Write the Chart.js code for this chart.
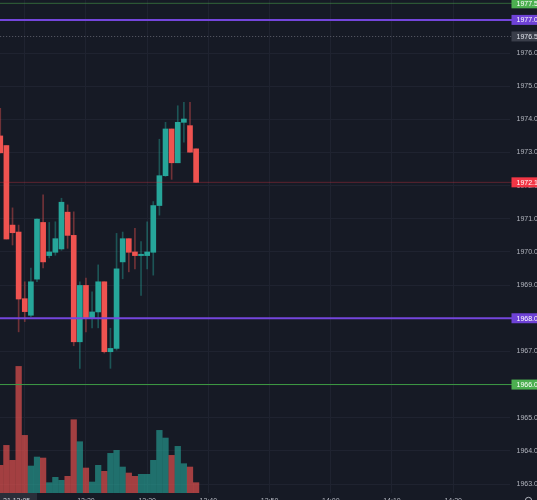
<!DOCTYPE html>
<html><head><meta charset="utf-8">
<script src="https://cdn.jsdelivr.net/npm/chart.js@4"></script>
<style>html,body{margin:0;padding:0;background:#161a25;overflow:hidden}canvas{display:block}</style>
</head><body>
<canvas id="c" width="537" height="500"></canvas>
<script>
// ---- data ----
const candleTimes = ['13:06','13:07','13:08','13:09','13:10','13:11','13:12','13:13','13:14','13:15','13:16',
  '13:17','13:18','13:19','13:20','13:21','13:22','13:23','13:24','13:25','13:26','13:27','13:28','13:29',
  '13:30','13:31','13:32','13:33','13:34','13:35','13:36','13:37','13:38'];
const opens  = [1973.50,1973.21,1970.81,1970.60,1968.59,1968.09,1969.18,1970.89,1969.89,1969.99,1970.09,
  1971.20,1970.50,1967.29,1968.99,1968.00,1968.19,1969.10,1966.99,1967.09,1969.70,1970.40,1970.00,1969.89,
  1969.89,1969.99,1971.40,1972.30,1973.71,1972.69,1973.91,1973.81,1973.11];
const highs  = [1974.33,1973.21,1971.33,1970.81,1969.10,1969.51,1971.00,1971.72,1970.89,1970.91,1971.62,
  1971.42,1971.21,1969.10,1969.21,1968.80,1969.61,1969.10,1967.70,1970.56,1970.60,1970.40,1970.71,1970.31,
  1970.91,1971.52,1973.40,1973.91,1973.71,1974.41,1974.51,1974.51,1973.11];
const lows   = [1972.99,1970.39,1970.21,1967.59,1967.90,1968.05,1969.10,1969.52,1969.82,1969.90,1970.05,
  1970.11,1967.17,1966.49,1967.59,1967.71,1967.71,1966.95,1966.49,1967.04,1969.19,1969.40,1969.49,1968.69,
  1969.49,1969.30,1971.11,1972.28,1972.19,1972.69,1973.31,1973.01,1972.10];
const closes = [1972.99,1970.39,1970.58,1968.58,1968.20,1969.10,1970.99,1969.70,1970.00,1970.40,1971.50,
  1970.50,1967.29,1968.99,1968.00,1968.19,1969.10,1966.99,1967.09,1969.49,1970.40,1969.99,1969.89,1969.93,
  1970.00,1971.40,1972.30,1973.71,1972.69,1973.91,1974.01,1973.01,1972.10];
const volumes = [83,143,98,380,173,81,108,105,31,47,38,50,220,154,75,33,83,65,119,128,78,60,50,56,56,98,
  188,165,113,140,88,78,31];
const xTickMinutes = [10,20,30,40,50,60,70,80];
const xTickLabels = ['13:10','13:20','13:30','13:40','13:50','14:00','14:10','14:20'];
const yTickValues = [1963,1964,1965,1966,1967,1968,1969,1970,1971,1972,1973,1974,1975,1976,1977];
const levelPrices = [1977.5,1977.0,1976.5,1972.1,1968.0,1966.0];
const levelTexts  = ['1977.5','1977.0','1976.5','1972.1','1968.0','1966.0'];
const cornerText = '21 13:05';

// ---- styles ----
const BG = '#161a25', GRID = '#1f2330', TXT = '#b2b5be';
const UP = '#26a69a', DN = '#ef5350';
const UPW = 'rgba(38,166,154,0.42)', DNW = 'rgba(239,83,80,0.42)';
const UPV = 'rgba(38,166,154,0.62)', DNV = 'rgba(239,83,80,0.65)';
const levelStyles = [
  {line:'rgba(76,175,80,0.5)', w:1, dash:[], box:'#4caf50', txt:'#ffffff'},
  {line:'#7446dc', w:2, dash:[], box:'#6e42d6', txt:'#ffffff'},
  {line:'#50535e', w:1.2, dash:[1.2,1.8], box:'#3a3e4a', txt:'#e0e3eb'},
  {line:'rgba(242,54,69,0.32)', w:1, dash:[], box:'#f23645', txt:'#ffffff'},
  {line:'#7446dc', w:2, dash:[], box:'#6e42d6', txt:'#ffffff'},
  {line:'#3d9a44', w:1, dash:[], box:'#4caf50', txt:'#ffffff'}
];
const FONT = 'Liberation Sans';

const toMin = t => { const [h, m] = t.split(':').map(Number); return h * 60 + m - 780; };
const xs = candleTimes.map(toMin);
const isUp = closes.map((c, i) => c >= opens[i]);

const overlay = {
  id: 'overlay',
  beforeDraw(chart) {
    const c = chart.ctx; c.save(); c.fillStyle = BG; c.fillRect(0, 0, chart.width, chart.height); c.restore();
  },
  afterDatasetsDraw(chart) {
    const c = chart.ctx, y = chart.scales.y, a = chart.chartArea;
    c.save();
    levelPrices.forEach((p, i) => {
      const st = levelStyles[i];
      const py = y.getPixelForValue(p);
      c.strokeStyle = st.line; c.lineWidth = st.w; c.setLineDash(st.dash);
      c.beginPath(); c.moveTo(a.left, py); c.lineTo(a.right + 2, py); c.stroke();
    });
    c.restore();
  },
  afterDraw(chart) {
    const c = chart.ctx, y = chart.scales.y, a = chart.chartArea;
    c.save();
    c.font = '7px "' + FONT + '"';
    c.textBaseline = 'middle'; c.textAlign = 'left';
    levelPrices.forEach((p, i) => {
      const st = levelStyles[i];
      const py = y.getPixelForValue(p);
      c.fillStyle = st.box;
      c.fillRect(a.right + 1.5, py - 5, chart.width - a.right - 1.5, 10);
      c.fillStyle = st.txt;
      c.fillText(levelTexts[i], a.right + 6.5, py + 0.5);
    });
    c.fillStyle = '#2a2e39';
    c.fillRect(0, a.bottom, 37, chart.height - a.bottom);
    c.fillStyle = '#d1d4dc'; c.textBaseline = 'top';
    c.fillText(cornerText, 3, a.bottom + 4.5);
    c.strokeStyle = TXT; c.lineWidth = 1;
    c.beginPath(); c.arc(528.5, 500.5, 3.2, 0, Math.PI * 2); c.stroke();
    c.restore();
  }
};

new Chart(document.getElementById('c'), {
  type: 'bar',
  data: {
    datasets: [
      { label: 'body', data: xs.map((x, i) => ({ x, y: [opens[i], closes[i]] })),
        backgroundColor: isUp.map(u => u ? UP : DN), barThickness: 5, minBarLength: 1,
        grouped: false, order: 1, yAxisID: 'y', borderWidth: 0 },
      { label: 'wick', data: xs.map((x, i) => ({ x, y: [lows[i], highs[i]] })),
        backgroundColor: isUp.map(u => u ? UPW : DNW), barThickness: 1,
        grouped: false, order: 2, yAxisID: 'y', borderWidth: 0 },
      { label: 'volume', data: xs.map((x, i) => ({ x, y: volumes[i] })),
        backgroundColor: isUp.map(u => u ? UPV : DNV), barThickness: 5.6,
        grouped: false, order: 3, yAxisID: 'v', borderWidth: 0 }
    ]
  },
  options: {
    responsive: false, animation: false, devicePixelRatio: 1,
    layout: { padding: 0 },
    plugins: { legend: { display: false }, tooltip: { enabled: false } },
    scales: {
      x: {
        type: 'linear', position: 'bottom', min: 7 - 6.4 / 6.12, max: 7 - 6.4 / 6.12 + 510 / 6.12,
        offset: false,
        afterBuildTicks: s => { s.ticks = xTickMinutes.map(v => ({ value: v })); },
        afterFit: s => { s.height = 7; s.paddingLeft = 0; s.paddingRight = 0; s.paddingTop = 0; s.paddingBottom = 0; },
        grid: { color: GRID, drawTicks: false, offset: false },
        border: { display: false },
        ticks: { color: TXT, font: { size: 7, family: FONT }, padding: 4, maxRotation: 0, autoSkip: false,
          callback: v => xTickLabels[xTickMinutes.indexOf(v)] }
      },
      y: {
        type: 'linear', position: 'right', min: 1963 - 9 / 33.15, max: 1963 + 484 / 33.15,
        afterBuildTicks: s => { s.ticks = yTickValues.map(v => ({ value: v })); },
        afterFit: s => { s.width = 27; s.paddingTop = 0; s.paddingBottom = 0; s.paddingLeft = 0; s.paddingRight = 0; },
        grid: { color: GRID, drawTicks: false },
        border: { display: false },
        ticks: { color: TXT, font: { size: 7, family: FONT }, padding: 6.5, autoSkip: false,
          callback: v => Number(v).toFixed(1) }
      },
      v: { type: 'linear', display: false, min: 0, max: 1480 }
    }
  },
  plugins: [overlay]
});
</script>
</body></html>
